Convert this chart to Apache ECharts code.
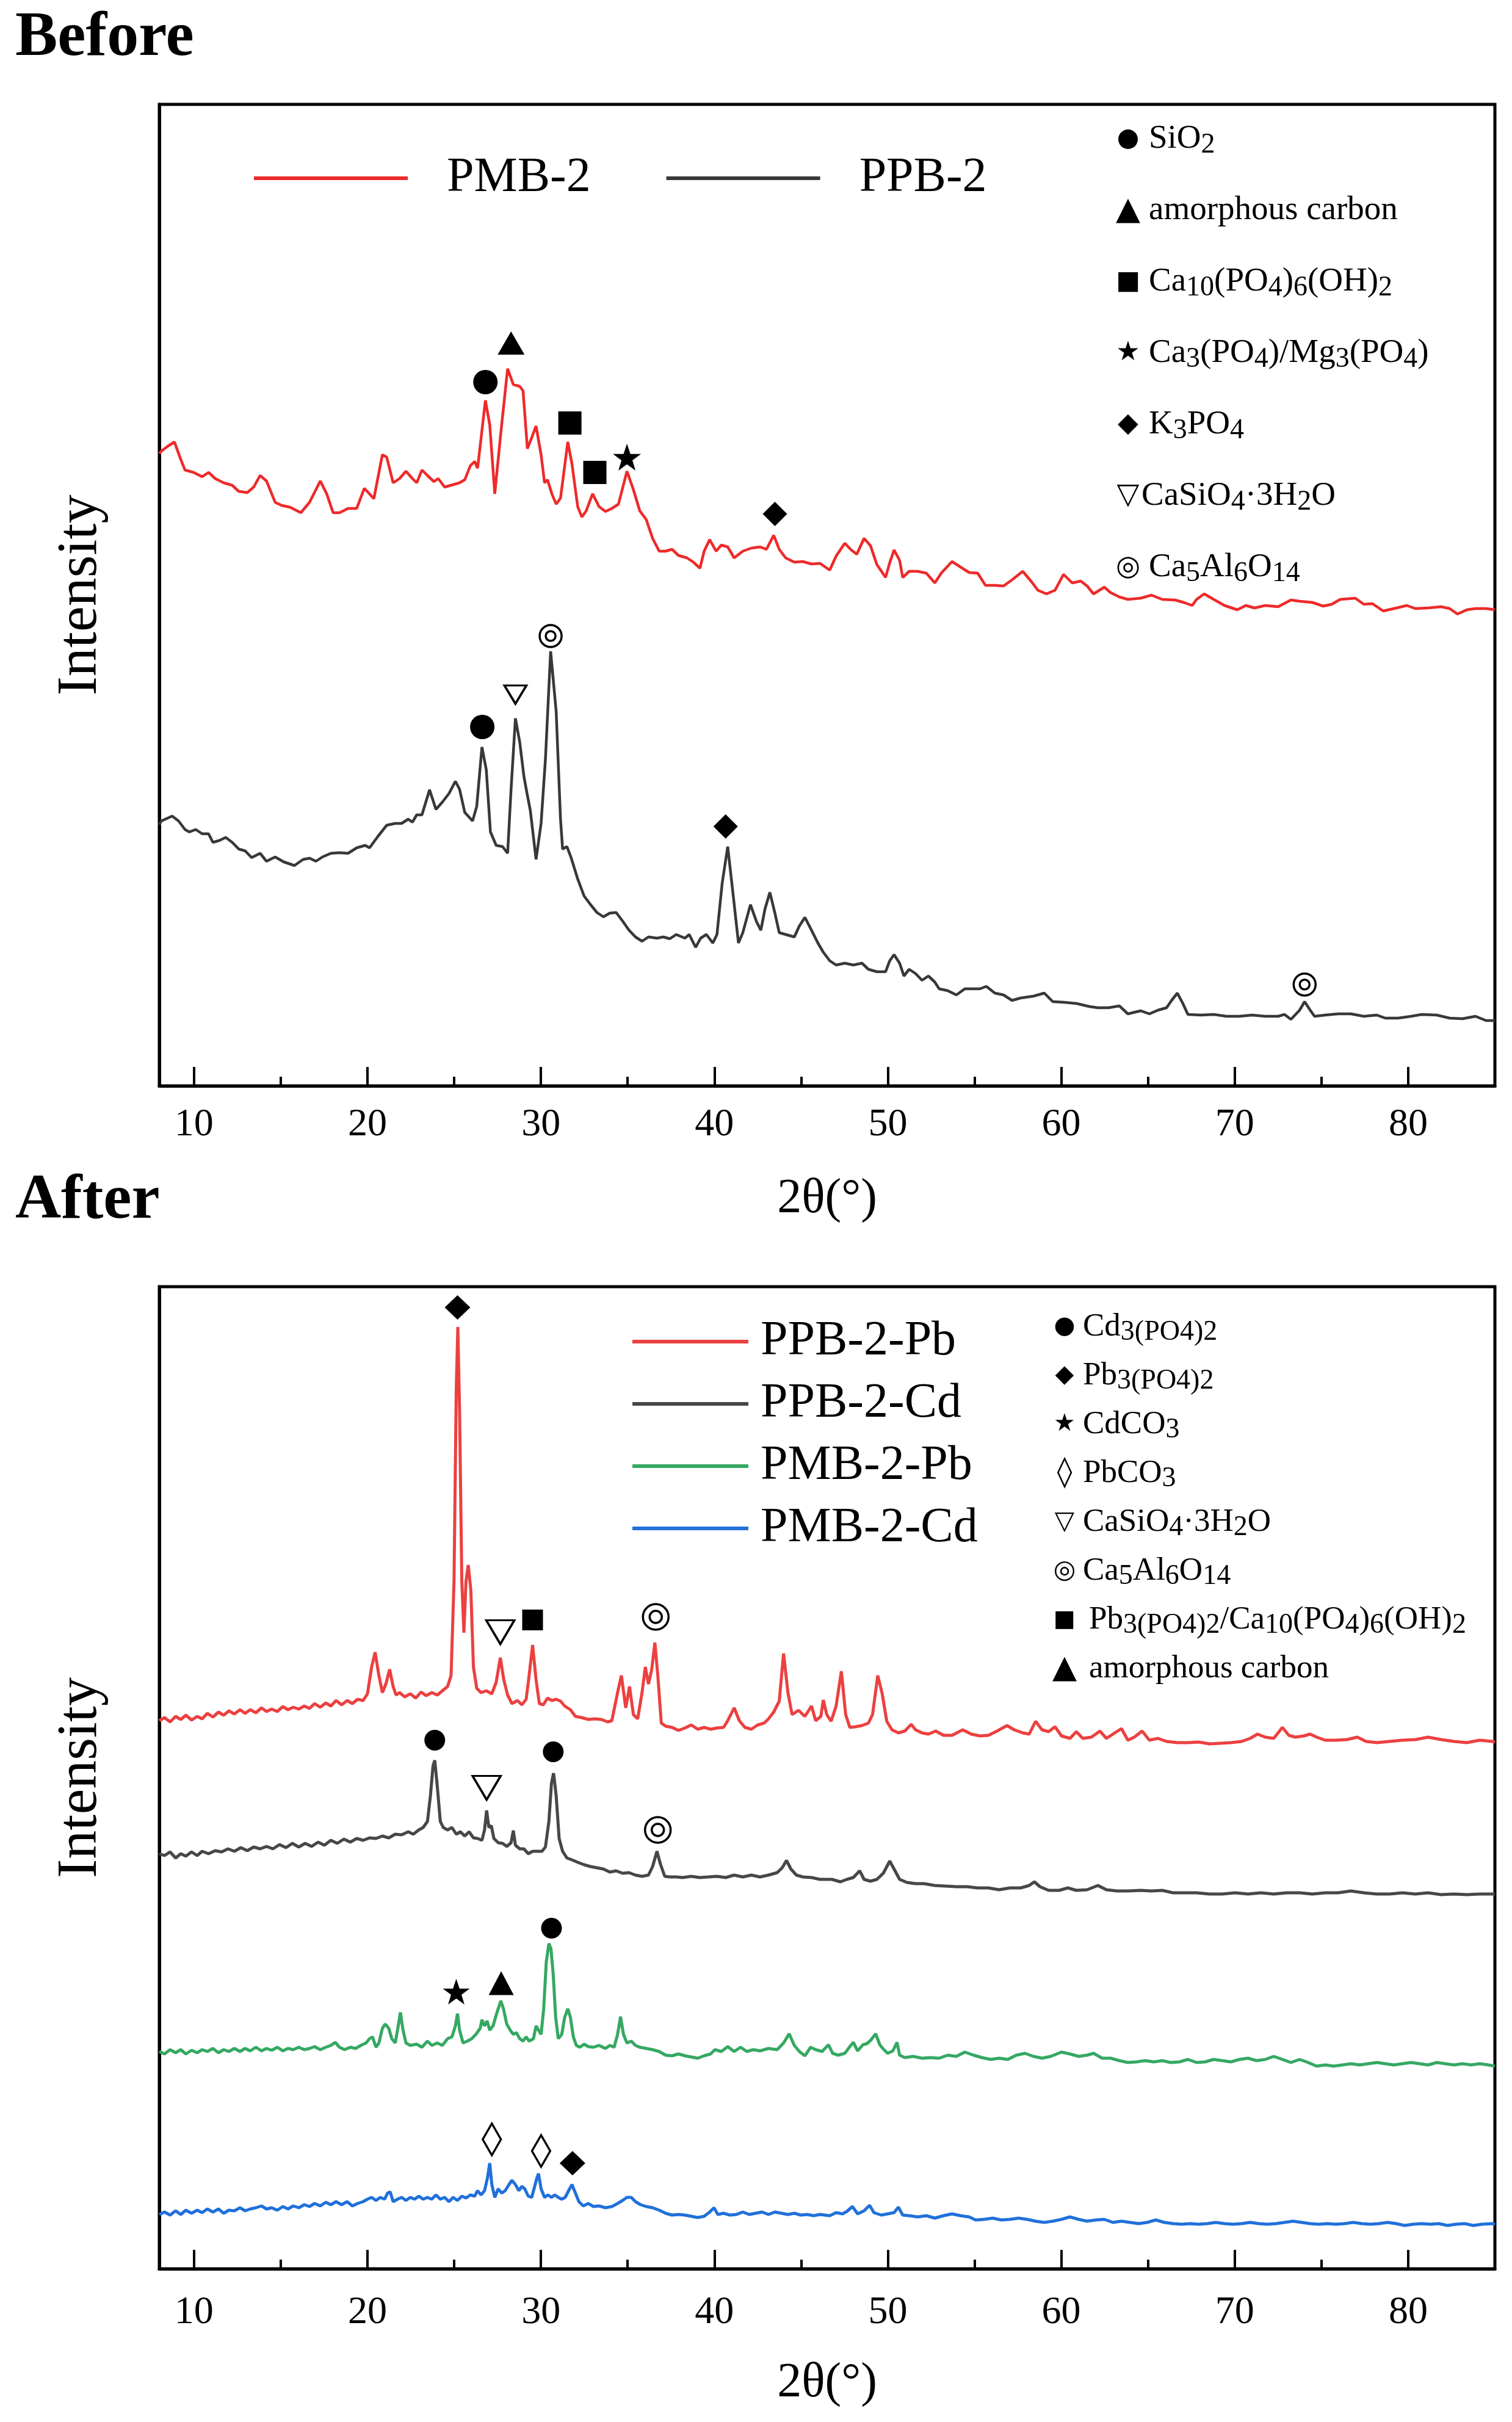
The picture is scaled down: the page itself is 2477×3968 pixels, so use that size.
<!DOCTYPE html>
<html><head><meta charset="utf-8">
<script src="https://cdn.jsdelivr.net/npm/echarts@6/dist/echarts.min.js"></script>
<style>html,body{margin:0;padding:0;background:#fff}#c{width:2477px;height:3968px}</style>
</head><body><div id="c"></div>
<script>
// ---------- data (2θ in degrees, intensity in a.u.) ----------
const xTickLabels = [10,20,30,40,50,60,70,80];

const beforePMB2 = [[8.00,1036],[8.12,1040],[8.49,1048],[8.87,1055],[9.24,1026],[9.48,1009],[9.98,1005],[10.47,998],[10.84,1005],[11.22,995],[11.71,988],[12.20,984],[12.58,974],[13.07,972],[13.44,981],[13.81,1000],[14.18,991],[14.68,956],[15.05,951],[15.54,948],[16.16,939],[16.66,956],[17.28,991],[17.65,970],[18.02,939],[18.39,939],[18.88,946],[19.38,946],[19.82,979],[20.37,962],[20.86,1034],[21.11,1030],[21.48,988],[21.85,995],[22.22,1007],[22.59,995],[22.84,988],[23.14,1009],[23.46,1000],[23.83,990],[24.08,995],[24.45,981],[24.82,984],[25.31,988],[25.61,993],[25.93,1016],[26.18,1023],[26.35,1012],[26.80,1123],[27.05,1083],[27.34,970],[27.66,1062],[28.08,1175],[28.41,1149],[28.78,1146],[28.97,1139],[29.22,1044],[29.47,1062],[29.72,1081],[30.01,1034],[30.21,988],[30.38,993],[30.63,970],[30.88,953],[31.13,963],[31.55,1055],[31.79,1019],[32.12,949],[32.36,932],[32.61,942],[32.98,970],[33.35,949],[33.72,941],[34.09,946],[34.47,953],[34.96,1007],[35.33,977],[35.70,942],[36.07,928],[36.44,897],[36.82,876],[37.19,876],[37.56,879],[37.93,869],[38.42,865],[38.79,858],[39.17,848],[39.41,876],[39.73,895],[40.10,876],[40.40,886],[40.77,883],[41.14,865],[41.64,876],[42.13,881],[42.63,883],[43.00,879],[43.42,902],[43.74,879],[44.11,865],[44.61,858],[45.10,859],[45.60,855],[46.09,856],[46.65,845],[47.02,868],[47.52,889],[47.89,878],[48.21,871],[48.63,897],[49.00,885],[49.37,854],[49.87,833],[50.11,857],[50.36,878],[50.68,861],[50.86,833],[51.23,843],[51.72,843],[52.22,840],[52.71,824],[53.08,840],[53.70,859],[54.19,850],[54.69,841],[55.18,840],[55.63,820],[56.17,820],[56.67,819],[57.16,829],[57.78,843],[58.28,826],[58.65,812],[59.14,806],[59.64,812],[60.13,838],[60.63,824],[61.12,827],[61.49,819],[61.86,806],[62.48,817],[62.85,808],[63.35,801],[63.84,797],[64.58,799],[65.20,804],[65.82,797],[66.56,796],[67.06,792],[67.55,787],[67.80,797],[68.24,806],[68.79,797],[69.41,787],[70.15,780],[70.64,787],[71.14,783],[71.76,787],[72.50,785],[73.24,796],[73.74,794],[74.48,792],[75.10,786],[75.59,789],[76.08,797],[76.95,799],[77.44,789],[77.94,790],[78.56,778],[79.18,782],[79.92,787],[80.41,782],[81.15,783],[81.90,785],[82.39,782],[82.84,773],[83.38,780],[83.88,782],[84.49,782],[84.99,780]];

const beforePPB2 = [[8.00,428],[8.12,434],[8.74,442],[9.11,434],[9.48,420],[9.73,416],[10.10,420],[10.47,413],[10.84,413],[11.09,399],[11.46,402],[11.83,407],[12.20,399],[12.58,388],[12.95,385],[13.32,374],[13.81,381],[14.18,368],[14.68,375],[15.17,367],[15.79,361],[16.29,371],[16.66,373],[17.03,368],[17.40,375],[17.89,381],[18.39,382],[18.88,381],[19.38,390],[19.87,394],[20.12,390],[20.61,409],[21.11,427],[21.60,430],[21.97,430],[22.35,437],[22.59,432],[22.84,444],[23.14,444],[23.58,485],[23.95,453],[24.32,465],[24.70,479],[25.07,499],[25.31,486],[25.61,448],[26.06,434],[26.30,458],[26.60,555],[26.85,518],[27.09,416],[27.42,394],[27.79,392],[28.08,381],[28.28,486],[28.53,602],[28.78,563],[29.02,507],[29.20,479],[29.39,451],[29.72,371],[30.01,430],[30.26,535],[30.56,712],[30.88,613],[31.13,437],[31.25,388],[31.50,392],[31.74,374],[32.12,339],[32.49,311],[32.86,297],[33.23,284],[33.60,277],[33.97,283],[34.34,284],[34.71,270],[35.08,255],[35.45,244],[35.83,237],[36.20,244],[36.69,242],[37.06,244],[37.43,241],[37.80,248],[38.30,242],[38.55,248],[38.92,227],[39.21,242],[39.54,248],[39.91,234],[40.15,248],[40.45,332],[40.77,392],[41.09,311],[41.39,234],[41.64,251],[42.08,297],[42.43,269],[42.68,255],[42.92,290],[43.20,317],[43.49,283],[43.74,251],[44.11,248],[44.61,244],[44.90,262],[45.22,276],[45.60,255],[45.97,234],[46.28,219],[46.65,205],[47.02,198],[47.52,201],[48.01,198],[48.51,201],[48.88,191],[49.37,187],[49.87,187],[50.11,205],[50.36,215],[50.68,201],[50.93,180],[51.23,191],[51.60,184],[51.97,173],[52.34,180],[52.71,170],[52.96,159],[53.45,156],[53.95,149],[54.44,159],[54.94,159],[55.31,159],[55.68,163],[56.17,152],[56.67,149],[57.16,140],[57.66,144],[58.40,147],[59.02,152],[59.51,138],[60.13,137],[60.87,135],[61.62,130],[62.11,128],[62.73,128],[63.35,131],[63.84,118],[64.58,123],[65.08,118],[65.57,124],[66.07,128],[66.36,140],[66.69,152],[67.01,135],[67.30,117],[68.05,116],[68.79,117],[69.53,114],[70.27,114],[71.01,116],[71.76,114],[72.50,114],[72.87,117],[73.24,109],[73.74,124],[74.03,138],[74.35,124],[74.60,114],[75.22,116],[75.96,118],[76.70,118],[77.44,114],[78.19,116],[78.68,111],[79.42,111],[80.17,114],[80.78,117],[81.65,116],[82.39,111],[83.13,110],[83.88,114],[84.49,107],[85.00,107]];

const afterPPB2Pb = [[8.00,898],[8.30,903],[8.62,896],[8.94,905],[9.24,900],[9.53,907],[9.86,899],[10.18,905],[10.47,901],[10.77,910],[11.09,904],[11.41,912],[11.71,907],[12.01,914],[12.33,909],[12.65,916],[12.95,910],[13.24,916],[13.57,911],[13.89,919],[14.18,913],[14.48,917],[14.80,913],[15.12,921],[15.42,916],[15.72,920],[16.04,917],[16.36,922],[16.66,918],[16.95,926],[17.28,920],[17.60,927],[17.89,922],[18.19,931],[18.51,924],[18.83,931],[19.13,926],[19.43,933],[19.75,931],[20.00,942],[20.24,986],[20.44,1010],[20.66,972],[20.86,944],[21.06,958],[21.28,982],[21.48,954],[21.65,940],[21.85,944],[22.15,937],[22.47,942],[22.79,935],[23.09,945],[23.38,939],[23.71,944],[24.03,940],[24.32,947],[24.62,954],[24.82,972],[24.99,1126],[25.12,1442],[25.21,1543],[25.31,1407],[25.44,1126],[25.56,1042],[25.68,1126],[25.81,1153],[25.96,1112],[26.11,986],[26.30,951],[26.55,944],[26.85,947],[27.17,942],[27.42,961],[27.66,1001],[27.86,965],[28.08,940],[28.33,926],[28.65,931],[28.90,924],[29.15,933],[29.32,972],[29.52,1022],[29.72,965],[29.91,926],[30.14,924],[30.38,935],[30.63,931],[30.88,933],[31.13,930],[31.37,922],[31.70,916],[31.99,905],[32.36,903],[32.73,900],[33.11,901],[33.48,900],[33.85,896],[34.09,898],[34.42,944],[34.64,972],[34.89,919],[35.11,954],[35.33,908],[35.58,901],[35.83,944],[36.02,986],[36.20,958],[36.39,982],[36.57,1026],[36.74,972],[36.94,894],[37.19,889],[37.56,887],[37.93,882],[38.30,886],[38.67,891],[39.04,884],[39.41,887],[39.78,884],[40.15,886],[40.53,887],[40.77,898],[41.14,919],[41.44,898],[41.76,887],[42.13,884],[42.50,891],[42.87,894],[43.12,901],[43.42,912],[43.74,930],[43.99,1008],[44.24,944],[44.48,908],[44.85,915],[45.22,905],[45.60,922],[45.84,898],[46.14,905],[46.28,932],[46.48,908],[46.73,897],[47.02,922],[47.32,979],[47.57,908],[47.81,887],[48.13,888],[48.51,890],[48.88,894],[49.12,908],[49.42,972],[49.67,943],[49.94,897],[50.24,883],[50.61,878],[50.98,881],[51.35,892],[51.60,883],[51.97,878],[52.34,876],[52.76,881],[53.21,874],[53.70,874],[54.32,883],[54.81,876],[55.31,873],[55.80,874],[56.30,881],[56.87,890],[57.29,883],[57.78,878],[58.15,876],[58.52,897],[58.89,883],[59.27,880],[59.64,888],[60.01,873],[60.50,869],[60.87,880],[61.24,869],[61.74,871],[62.23,881],[62.60,869],[62.98,876],[63.47,885],[63.84,866],[64.21,871],[64.66,881],[65.08,866],[65.57,869],[66.07,864],[66.69,862],[67.30,862],[67.92,863],[68.54,860],[69.16,861],[69.78,862],[70.40,864],[70.89,869],[71.31,876],[71.76,871],[72.25,869],[72.75,887],[73.12,874],[73.49,871],[73.98,873],[74.35,876],[74.72,871],[75.22,866],[75.84,866],[76.46,867],[77.07,871],[77.57,864],[78.19,862],[78.93,864],[79.67,866],[80.41,867],[81.15,871],[81.90,867],[82.64,864],[83.38,862],[84.12,866],[84.86,864],[85.00,863]];

const afterPPB2Cd = [[8.00,680],[8.30,677],[8.62,683],[8.94,673],[9.24,680],[9.53,676],[9.86,683],[10.18,677],[10.47,684],[10.84,680],[11.22,685],[11.59,683],[11.96,688],[12.33,684],[12.70,690],[13.07,685],[13.44,691],[13.81,688],[14.18,692],[14.55,688],[14.93,695],[15.30,690],[15.67,697],[16.04,691],[16.41,697],[16.78,692],[17.15,699],[17.52,694],[17.89,702],[18.26,697],[18.64,704],[19.01,699],[19.38,705],[19.75,702],[20.12,706],[20.49,705],[20.86,709],[21.23,706],[21.60,712],[21.97,711],[22.35,716],[22.64,712],[22.96,719],[23.21,723],[23.46,733],[23.63,775],[23.78,824],[23.88,833],[24.03,789],[24.20,733],[24.37,723],[24.62,719],[24.87,723],[25.12,712],[25.36,716],[25.61,709],[25.86,716],[26.11,706],[26.35,705],[26.60,702],[26.75,719],[26.87,751],[27.00,723],[27.14,726],[27.29,705],[27.54,698],[27.79,697],[28.03,692],[28.28,698],[28.41,718],[28.53,694],[28.78,688],[29.02,688],[29.27,680],[29.52,684],[29.77,684],[30.06,684],[30.26,691],[30.46,733],[30.61,796],[30.73,812],[30.88,775],[31.05,705],[31.25,684],[31.50,673],[31.79,670],[32.12,666],[32.49,662],[32.86,659],[33.23,657],[33.60,655],[33.97,650],[34.34,652],[34.71,648],[35.08,649],[35.45,645],[35.83,643],[36.20,645],[36.44,659],[36.69,684],[36.89,663],[37.14,643],[37.43,642],[37.80,642],[38.17,641],[38.67,643],[39.16,641],[39.66,642],[40.15,643],[40.65,641],[41.14,645],[41.64,642],[42.13,645],[42.63,642],[43.12,645],[43.62,649],[43.91,657],[44.16,669],[44.41,655],[44.73,645],[45.10,642],[45.60,641],[46.09,638],[46.77,638],[47.27,634],[47.64,638],[48.01,641],[48.38,652],[48.63,638],[49.00,635],[49.37,638],[49.74,648],[50.11,668],[50.36,655],[50.68,638],[51.10,633],[51.60,631],[52.09,631],[52.71,628],[53.33,627],[53.95,626],[54.57,626],[55.18,624],[55.80,624],[56.42,621],[57.04,624],[57.66,624],[58.15,628],[58.45,634],[58.77,626],[59.27,620],[59.88,620],[60.38,624],[60.87,620],[61.49,621],[62.11,628],[62.60,621],[63.22,619],[63.84,619],[64.58,620],[65.20,619],[65.82,620],[66.44,616],[67.06,616],[67.80,616],[68.54,614],[69.28,614],[70.02,616],[70.77,614],[71.51,616],[72.25,614],[72.99,616],[73.74,616],[74.48,614],[75.22,616],[75.96,616],[76.70,619],[77.44,616],[78.19,614],[78.93,614],[79.67,616],[80.41,614],[81.15,616],[81.90,613],[82.64,614],[83.38,613],[84.12,614],[84.86,614],[85.00,614]];

const afterPMB2Pb = [[8.00,356],[8.30,352],[8.62,359],[8.94,354],[9.24,359],[9.53,352],[9.86,358],[10.18,354],[10.47,359],[10.77,356],[11.09,361],[11.41,354],[11.71,359],[12.01,356],[12.33,361],[12.65,356],[12.95,361],[13.24,357],[13.57,363],[13.89,357],[14.18,361],[14.48,358],[14.80,363],[15.12,357],[15.42,361],[15.72,359],[16.04,363],[16.36,359],[16.66,361],[16.95,364],[17.28,359],[17.60,363],[17.89,366],[18.14,371],[18.39,363],[18.68,359],[19.01,363],[19.32,361],[19.62,366],[19.92,370],[20.12,377],[20.29,380],[20.49,363],[20.66,370],[20.86,394],[21.03,401],[21.23,394],[21.40,377],[21.60,370],[21.75,394],[21.90,420],[22.05,391],[22.22,370],[22.47,366],[22.84,368],[23.14,363],[23.46,373],[23.71,366],[24.03,370],[24.32,366],[24.62,377],[24.87,380],[25.07,398],[25.19,418],[25.31,391],[25.51,370],[25.76,373],[26.01,377],[26.25,384],[26.50,394],[26.60,408],[26.75,398],[26.90,406],[27.05,391],[27.24,398],[27.49,422],[27.69,439],[27.84,426],[28.03,401],[28.23,391],[28.41,384],[28.58,387],[28.78,377],[28.97,373],[29.15,380],[29.32,373],[29.57,377],[29.72,398],[29.86,391],[30.01,384],[30.16,426],[30.31,503],[30.46,533],[30.58,524],[30.71,482],[30.85,412],[31.00,377],[31.20,384],[31.37,412],[31.55,426],[31.70,412],[31.87,380],[32.04,366],[32.24,363],[32.49,368],[32.73,364],[33.03,363],[33.35,366],[33.72,361],[33.97,366],[34.22,363],[34.42,384],[34.59,413],[34.76,384],[34.96,370],[35.21,373],[35.45,366],[35.70,363],[36.07,361],[36.44,359],[36.82,356],[37.19,350],[37.56,349],[37.93,352],[38.30,349],[38.67,347],[39.04,345],[39.41,349],[39.78,352],[40.03,359],[40.40,356],[40.77,364],[41.14,356],[41.51,363],[41.87,356],[42.24,359],[42.63,357],[43.12,361],[43.62,359],[43.99,370],[44.31,385],[44.61,366],[44.90,356],[45.22,349],[45.55,363],[45.84,359],[46.21,356],[46.58,367],[46.82,353],[47.15,350],[47.52,353],[47.81,364],[48.01,371],[48.26,357],[48.56,367],[48.80,369],[49.00,374],[49.30,385],[49.54,367],[49.74,360],[49.99,353],[50.29,357],[50.53,371],[50.68,350],[50.98,346],[51.47,348],[51.97,345],[52.46,346],[52.96,345],[53.45,350],[53.95,348],[54.44,355],[54.94,350],[55.43,346],[55.93,343],[56.42,345],[56.92,343],[57.41,350],[57.91,353],[58.40,348],[58.89,345],[59.39,348],[60.01,355],[60.50,352],[61.00,348],[61.49,350],[61.86,353],[62.36,345],[62.85,345],[63.35,341],[63.84,338],[64.34,339],[64.83,341],[65.33,339],[65.82,341],[66.31,338],[66.81,339],[67.30,343],[67.80,338],[68.29,339],[68.79,343],[69.28,341],[69.78,339],[70.27,343],[70.77,345],[71.26,341],[71.76,343],[72.25,348],[72.75,343],[73.24,338],[73.74,343],[74.23,338],[74.72,332],[75.22,334],[75.71,332],[76.21,334],[76.70,336],[77.20,334],[77.69,336],[78.19,338],[78.68,336],[79.18,334],[79.67,336],[80.17,338],[80.66,336],[81.15,334],[81.65,338],[82.14,336],[82.64,334],[83.13,336],[83.63,334],[84.12,336],[84.62,334],[84.99,332]];

const afterPMB2Cd = [[8.00,89],[8.30,93],[8.62,88],[8.94,95],[9.24,89],[9.53,96],[9.86,91],[10.18,96],[10.47,92],[10.77,98],[11.09,93],[11.41,98],[11.71,91],[12.01,96],[12.33,95],[12.65,100],[12.95,95],[13.24,98],[13.57,100],[13.89,103],[14.18,98],[14.48,100],[14.80,96],[15.12,102],[15.42,98],[15.72,103],[16.04,100],[16.36,105],[16.66,102],[16.95,107],[17.28,103],[17.60,109],[17.89,105],[18.19,110],[18.51,105],[18.83,110],[19.13,103],[19.43,107],[19.75,110],[20.00,114],[20.24,117],[20.49,112],[20.74,117],[20.99,114],[21.16,124],[21.31,126],[21.48,110],[21.73,114],[21.97,117],[22.22,112],[22.47,117],[22.72,114],[22.96,119],[23.21,114],[23.46,117],[23.71,114],[23.95,121],[24.20,114],[24.45,117],[24.70,110],[24.94,117],[25.19,112],[25.44,119],[25.68,116],[25.93,121],[26.18,119],[26.35,128],[26.55,121],[26.75,128],[26.92,149],[27.05,173],[27.17,138],[27.34,117],[27.54,131],[27.74,124],[27.94,128],[28.16,138],[28.33,145],[28.53,138],[28.73,128],[28.90,135],[29.07,131],[29.27,119],[29.47,117],[29.64,135],[29.77,149],[29.86,156],[30.01,131],[30.21,117],[30.41,121],[30.61,117],[30.80,121],[31.00,117],[31.20,114],[31.40,117],[31.60,128],[31.79,138],[31.99,124],[32.19,110],[32.44,103],[32.73,107],[33.03,102],[33.35,103],[33.72,100],[34.09,102],[34.42,107],[34.71,112],[34.96,117],[35.21,117],[35.45,110],[35.75,105],[36.07,102],[36.44,100],[36.82,96],[37.19,91],[37.56,88],[37.93,89],[38.30,88],[38.67,86],[39.04,84],[39.41,86],[39.73,93],[39.98,100],[40.20,89],[40.53,91],[40.90,88],[41.27,89],[41.64,93],[42.01,89],[42.38,91],[42.75,93],[43.12,89],[43.49,93],[43.86,91],[44.24,89],[44.61,91],[44.98,88],[45.35,89],[45.72,87],[46.09,89],[46.65,87],[47.02,92],[47.39,90],[47.64,94],[47.96,102],[48.26,90],[48.63,95],[48.95,104],[49.20,92],[49.62,88],[49.99,90],[50.36,92],[50.61,101],[50.86,88],[51.23,87],[51.72,85],[52.22,87],[52.71,83],[53.21,87],[53.70,90],[54.19,87],[54.69,85],[55.06,80],[55.56,81],[56.05,83],[56.54,80],[57.04,81],[57.53,83],[58.03,81],[58.52,78],[59.02,76],[59.51,78],[60.01,81],[60.50,85],[61.00,81],[61.49,78],[61.99,80],[62.48,81],[62.98,76],[63.47,78],[63.96,76],[64.46,74],[64.95,76],[65.45,80],[65.94,76],[66.44,74],[66.93,73],[67.43,74],[67.92,73],[68.42,74],[68.91,76],[69.41,74],[69.90,73],[70.40,74],[70.89,76],[71.39,74],[71.88,73],[72.37,74],[72.87,76],[73.36,78],[73.86,76],[74.35,74],[74.85,73],[75.34,74],[75.84,73],[76.33,74],[76.83,76],[77.32,74],[77.82,73],[78.31,74],[78.81,76],[79.30,74],[79.79,71],[80.29,73],[80.78,74],[81.28,73],[81.77,74],[82.27,71],[82.76,73],[83.26,74],[83.75,71],[84.25,73],[84.86,74],[85.00,73]];

// phase markers [2θ, intensity]
const beforeCircle = [[26.80,1153],[26.62,588]];
const beforeTriangle = [[28.28,1217]];
const beforeSquare = [[31.67,1086],[33.11,1005]];
const beforeStar = [[34.96,1030]];
const beforeDiamond = [[43.49,937],[40.65,425]];
const beforeInvTriangle = [[28.53,641]];
const beforeDoubleCircle = [[30.56,737],[74.03,166]];

const afterCircle = [[23.88,866],[30.71,847],[30.61,558]];
const afterDiamond = [[25.19,1575],[31.82,173]];
const afterStar = [[25.12,454]];
const afterHollowDiamond = [[27.17,212],[30.01,193]];
const afterInvTriangle = [[27.66,1043],[26.87,788]];
const afterDoubleCircle = [[36.62,1068],[36.74,719]];
const afterSquare = [[29.52,1063]];
const afterTriangle = [[27.71,468]];

// legend texts
const beforeSeriesNames = ['PMB-2','PPB-2'];
const afterSeriesNames = ['PPB-2-Pb','PPB-2-Cd','PMB-2-Pb','PMB-2-Cd'];
const beforePhaseGlyphs = ['●','▲','■','★','◆','▽','◎'];
const beforePhaseTexts = ['{n|SiO}{s|2}','{n|amorphous carbon}','{n|Ca}{s|10}{n|(PO}{s|4}{n|)}{s|6}{n|(OH)}{s|2}','{n|Ca}{s|3}{n|(PO}{s|4}{n|)/Mg}{s|3}{n|(PO}{s|4}{n|)}','{n|K}{s|3}{n|PO}{s|4}','{n|CaSiO}{s|4}{n|·3H}{s|2}{n|O}','{n|Ca}{s|5}{n|Al}{s|6}{n|O}{s|14}'];
const afterPhaseGlyphs = ['●','◆','★','◊','▽','◎','■','▲'];
const afterPhaseTexts = ['{n|Cd}{s|3}{m|(PO}{s|4}{m|)}{s|2}','{n|Pb}{s|3}{m|(PO}{s|4}{m|)}{s|2}','{n|CdCO}{s|3}','{n|PbCO}{s|3}','{n|CaSiO}{s|4}{n|·3H}{s|2}{n|O}','{n|Ca}{s|5}{n|Al}{s|6}{n|O}{s|14}','{n|Pb}{s|3}{m|(PO}{s|4}{m|)}{s|2}{n|/Ca}{s|10}{n|(PO}{s|4}{n|)}{s|6}{n|(OH)}{s|2}','{n|amorphous carbon}'];

// ---------- styling / layout ----------
const SERIF = "'Liberation Serif','Times New Roman',serif";
const GLYPH = "'DejaVu Sans',sans-serif";
const STAR = 'path://M50,0 L61.8,35.1 L98.1,35.1 L68.7,56.8 L79.4,91.9 L50,70.3 L20.6,91.9 L31.3,56.8 L1.9,35.1 L38.2,35.1 Z';
const COL = {
  'PMB-2':'#EE2a2a','PPB-2':'#383838',
  'PPB-2-Pb':'#EC4040','PPB-2-Cd':'#474747','PMB-2-Pb':'#35A862','PMB-2-Cd':'#2070DA'
};
const panels = [
  {top:171, height:1608, ymax:1608, labelMargin:32, nameGap:146, lw:4.5},
  {top:2108, height:1609, ymax:1609, labelMargin:40, nameGap:148, lw:5}
];

function lineSeries(name, data, gi){
  return {type:'line', name, data, xAxisIndex:gi, yAxisIndex:gi, showSymbol:false, symbol:'none',
    lineStyle:{width:panels[gi].lw, color:COL[name]}, itemStyle:{color:COL[name]}, z:2, animation:false, silent:true};
}
function mark(data, gi, symbol, size, hollow, rotate){
  return {type:'scatter', data, xAxisIndex:gi, yAxisIndex:gi, symbol, symbolSize:size, symbolRotate:rotate||0,
    itemStyle: hollow ? {color:'#fff', borderColor:'#000', borderWidth:3.5, opacity:1} : {color:'#000', opacity:1},
    z:5, animation:false, silent:true};
}

const series = [
  lineSeries('PMB-2', beforePMB2, 0),
  lineSeries('PPB-2', beforePPB2, 0),
  lineSeries('PPB-2-Pb', afterPPB2Pb, 1),
  lineSeries('PPB-2-Cd', afterPPB2Cd, 1),
  lineSeries('PMB-2-Pb', afterPMB2Pb, 1),
  lineSeries('PMB-2-Cd', afterPMB2Cd, 1),
  mark(beforeCircle,0,'circle',40),
  mark(beforeTriangle,0,'triangle',[44,38]),
  mark(beforeSquare,0,'rect',38),
  mark(beforeStar,0,STAR,[46,44]),
  mark(beforeDiamond,0,'diamond',[40,40]),
  mark(beforeInvTriangle,0,'triangle',[36,30],true,180),
  mark(beforeDoubleCircle,0,'circle',36,true),
  mark(beforeDoubleCircle,0,'circle',16,true),
  mark(afterCircle,1,'circle',34),
  mark(afterDiamond,1,'diamond',[42,40]),
  mark(afterStar,1,STAR,[44,42]),
  mark(afterHollowDiamond,1,'diamond',[30,52],true),
  mark(afterInvTriangle,1,'triangle',[46,39],true,180),
  mark(afterDoubleCircle,1,'circle',42,true),
  mark(afterDoubleCircle,1,'circle',20,true),
  mark(afterSquare,1,'rect',34),
  mark(afterTriangle,1,'triangle',[41,39])
];

const grids = panels.map(p => ({left:261, top:p.top, width:2188, height:p.height, show:true,
  borderColor:'#000', borderWidth:5, backgroundColor:'transparent', containLabel:false, outerBoundsMode:'none'}));

const xAxes = panels.map((p,i) => ({type:'value', gridIndex:i, min:8, max:85, splitNumber:8,
  name:'2θ(°)', nameLocation:'middle', nameGap:p.nameGap,
  nameTextStyle:{fontFamily:SERIF, fontSize:80, color:'#000'},
  axisLine:{show:true, onZero:false, lineStyle:{color:'#000', width:5}},
  axisTick:{show:true, inside:true, length:31, lineStyle:{color:'#000', width:4}, customValues:xTickLabels},
  minorTick:{show:true, splitNumber:2, length:15, lineStyle:{color:'#000', width:4}},
  splitLine:{show:false}, minorSplitLine:{show:false},
  axisLabel:{fontFamily:SERIF, fontSize:64, color:'#000', margin:p.labelMargin, customValues:xTickLabels,
    formatter: v => (xTickLabels.indexOf(Math.round(v*1000)/1000) >= 0 ? String(v) : '')}
}));

const yAxes = panels.map((p,i) => ({type:'value', gridIndex:i, min:0, max:p.ymax,
  name:'Intensity', nameLocation:'middle', nameGap:82,
  nameTextStyle:{fontFamily:SERIF, fontSize:94, color:'#000'},
  axisLine:{show:true, lineStyle:{color:'#000', width:5}}, axisTick:{show:false},
  axisLabel:{show:false}, splitLine:{show:false}}));

const legends = [
  {data:beforeSeriesNames, orient:'horizontal', left:411, top:242, icon:'rect', itemWidth:252, itemHeight:6, itemGap:124,
   selectedMode:false, textStyle:{fontFamily:SERIF, fontSize:80, color:'#000', lineHeight:90, padding:[0,0,0,59]}},
  {data:afterSeriesNames, orient:'vertical', left:1031, top:2148, icon:'rect', itemWidth:190, itemHeight:6, itemGap:12,
   selectedMode:false, textStyle:{fontFamily:SERIF, fontSize:80, color:'#000', lineHeight:90, padding:[0,0,0,15]}}
];

const topRich = {
  n:{fontFamily:SERIF, fontSize:55, fill:'#000', lineHeight:66, verticalAlign:'middle'},
  s:{fontFamily:SERIF, fontSize:46, fill:'#000', lineHeight:22, verticalAlign:'bottom'}
};
const botRich = {
  n:{fontFamily:SERIF, fontSize:53, fill:'#000', lineHeight:64, verticalAlign:'middle'},
  m:{fontFamily:SERIF, fontSize:46, fill:'#000', lineHeight:58, verticalAlign:'bottom'},
  s:{fontFamily:SERIF, fontSize:46, fill:'#000', lineHeight:22, verticalAlign:'bottom'}
};
const topGlyphSize = {'●':42,'▲':52,'■':42,'★':44,'◆':44,'▽':48,'◎':46};
const botGlyphSize = {'●':40,'◆':40,'★':40,'◊':50,'▽':42,'◎':42,'■':38,'▲':52};

function txt(x, y, text, extra){
  return Object.assign({type:'text', x, y, silent:true,
    style:Object.assign({text, fill:'#000', align:'left', textAlign:'left', verticalAlign:'middle', textVerticalAlign:'middle'}, extra)});
}
const graphics = [
  txt(25, 63, 'Before', {fontFamily:SERIF, fontSize:104, fontWeight:'bold'}),
  txt(25, 1968, 'After', {fontFamily:SERIF, fontSize:104, fontWeight:'bold'})
];
beforePhaseGlyphs.forEach((g,i) => {
  const y = 228 + i*117;
  graphics.push(txt(1848, y, g, {fontFamily:GLYPH, fontSize:topGlyphSize[g], align:'center', textAlign:'center'}));
  graphics.push(txt(g === '▽' ? 1870 : 1882, y, beforePhaseTexts[i], {fontFamily:SERIF, fontSize:55, rich:topRich}));
});
afterPhaseGlyphs.forEach((g,i) => {
  const y = 2174 + i*80;
  graphics.push(txt(1744, y, g, {fontFamily:GLYPH, fontSize:botGlyphSize[g], align:'center', textAlign:'center'}));
  graphics.push(txt(g === '▲' || g === '■' ? 1784 : 1774, y, afterPhaseTexts[i], {fontFamily:SERIF, fontSize:53, rich:botRich}));
});

const chart = echarts.init(document.getElementById('c'), null, {renderer:'canvas'});
chart.setOption({
  backgroundColor:'#fff',
  animation:false,
  grid:grids, xAxis:xAxes, yAxis:yAxes, legend:legends, series,
  graphic:{elements:graphics}
});
</script></body></html>
